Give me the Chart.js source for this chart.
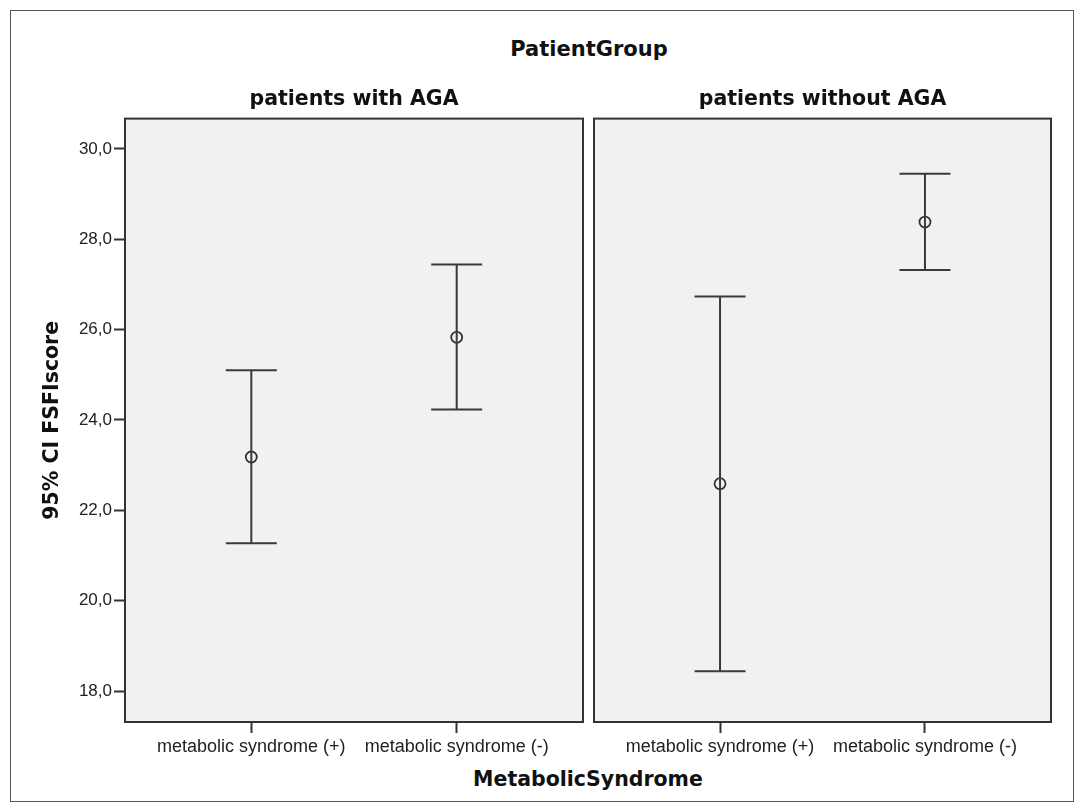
<!DOCTYPE html>
<html>
<head>
<meta charset="utf-8">
<script src="https://cdn.jsdelivr.net/npm/chart.js@4.4.1/dist/chart.umd.min.js"></script>
<style>
  body { margin: 0; width: 1084px; height: 812px; position: relative; overflow: hidden; background: #fff; color: #111; font-family: "DejaVu Sans", sans-serif; }
  .frame { position: absolute; left: 10px; top: 10px; width: 1064px; height: 792px; border: 1px solid #555; box-sizing: border-box; }
  .lbl { position: absolute; width: 400px; text-align: center; font-weight: bold; white-space: nowrap; line-height: 25px; }
  canvas { position: absolute; }
</style>
</head>
<body>
<div class="frame"></div>
<div class="lbl" id="groupLabel" style="left:389px; top:37px; font-size:21px;"></div>
<div class="lbl" id="xLabel" style="left:388px; top:767px; font-size:20.5px;"></div>
<canvas id="leftChart" width="587" height="675" style="left:0px; top:87px;"></canvas>
<canvas id="rightChart" width="465" height="675" style="left:590px; top:87px;"></canvas>
<script>
// ------------------
// data
// ------------------
const groupTitle = "PatientGroup";
const xTitle = "MetabolicSyndrome";
const yTitle = "95% CI FSFIscore";
const groups = ["patients with AGA", "patients without AGA"];
const categories = ["metabolic syndrome (+)", "metabolic syndrome (-)"];

const meanWithAGA = [23.18, 25.83];
const lowerWithAGA = [21.27, 24.23];
const upperWithAGA = [25.10, 27.44];

const meanWithoutAGA = [22.59, 28.38];
const lowerWithoutAGA = [18.44, 27.32];
const upperWithoutAGA = [26.73, 29.45];

const yTicks = [18, 20, 22, 24, 26, 28, 30];

// ------------------
// panel background + frame
// ------------------
const panelFrame = {
  id: "panelFrame",
  beforeDraw(chart) {
    const { ctx, chartArea: a } = chart;
    ctx.save();
    ctx.fillStyle = "#f0f1f3";
    ctx.fillRect(a.left, a.top, a.width, a.height);
    ctx.restore();
  },
  afterDraw(chart) {
    const { ctx, chartArea: a } = chart;
    ctx.save();
    ctx.strokeStyle = "#333";
    ctx.lineWidth = 2;
    ctx.strokeRect(a.left, a.top, a.width, a.height);
    ctx.restore();
  }
};

const lineColor = "#3a3a3a";

function makeChart(id, title, means, lowers, uppers, showY) {
  const whiskers = categories.map((c, i) => ({
    type: "line",
    data: [{ x: i, y: lowers[i] }, { x: i, y: uppers[i] }],
    borderColor: lineColor,
    borderWidth: 2,
    pointStyle: "line",
    pointRadius: 25.5,
    pointHoverRadius: 25.5,
    pointBorderWidth: 2,
    pointBorderColor: lineColor,
    fill: false
  }));

  const dots = {
    type: "scatter",
    data: means.map((m, i) => ({ x: i, y: m })),
    pointStyle: "circle",
    pointRadius: 5.5,
    pointHoverRadius: 5.5,
    pointBorderWidth: 1.8,
    pointBorderColor: "#333",
    pointBackgroundColor: "rgba(0,0,0,0)"
  };

  return new Chart(document.getElementById(id), {
    type: "scatter",
    data: { datasets: [...whiskers, dots] },
    plugins: [panelFrame],
    options: {
      responsive: false,
      animation: false,
      layout: {
        autoPadding: false,
        padding: { left: showY ? 0 : 4, right: 4, top: 0, bottom: 0 }
      },
      plugins: {
        legend: { display: false },
        tooltip: { enabled: false },
        title: {
          display: true,
          text: title,
          fullSize: false,
          color: "#111",
          font: { family: "DejaVu Sans", size: 20.5, weight: "bold" },
          padding: { top: 0, bottom: 7 }
        }
      },
      scales: {
        x: {
          type: "linear",
          min: -0.615,
          max: 1.615,
          afterBuildTicks: s => { s.ticks = categories.map((c, i) => ({ value: i })); },
          afterFit: s => {
            s.height = 40;
            s.paddingLeft = 0;
            s.paddingRight = 0;
          },
          ticks: {
            callback: v => categories[v],
            color: "#222",
            font: { family: "Liberation Sans", size: 18 },
            padding: 3,
            maxRotation: 0,
            autoSkip: false
          },
          grid: { drawOnChartArea: false, tickLength: 11, tickWidth: 2, tickColor: "#333" },
          border: { display: false }
        },
        y: {
          display: showY,
          min: 17.315,
          max: 30.67,
          afterBuildTicks: s => { s.ticks = yTicks.map(v => ({ value: v })); },
          afterFit: s => {
            s.width = showY ? 125 : 0;
            s.paddingTop = 0;
            s.paddingBottom = 0;
          },
          ticks: {
            callback: v => v.toFixed(1).replace(".", ","),
            color: "#222",
            font: { family: "Liberation Sans", size: 17 },
            padding: 2
          },
          grid: { drawOnChartArea: false, tickLength: 11, tickWidth: 2, tickColor: "#333" },
          border: { display: false },
          title: {
            display: showY,
            text: yTitle,
            color: "#111",
            font: { family: "DejaVu Sans", size: 20.5, weight: "bold" },
            padding: { top: 40, bottom: 0 }
          }
        }
      }
    }
  });
}

document.getElementById("groupLabel").textContent = groupTitle;
document.getElementById("xLabel").textContent = xTitle;

makeChart("leftChart", groups[0], meanWithAGA, lowerWithAGA, upperWithAGA, true);
makeChart("rightChart", groups[1], meanWithoutAGA, lowerWithoutAGA, upperWithoutAGA, false);
</script>
</body>
</html>
